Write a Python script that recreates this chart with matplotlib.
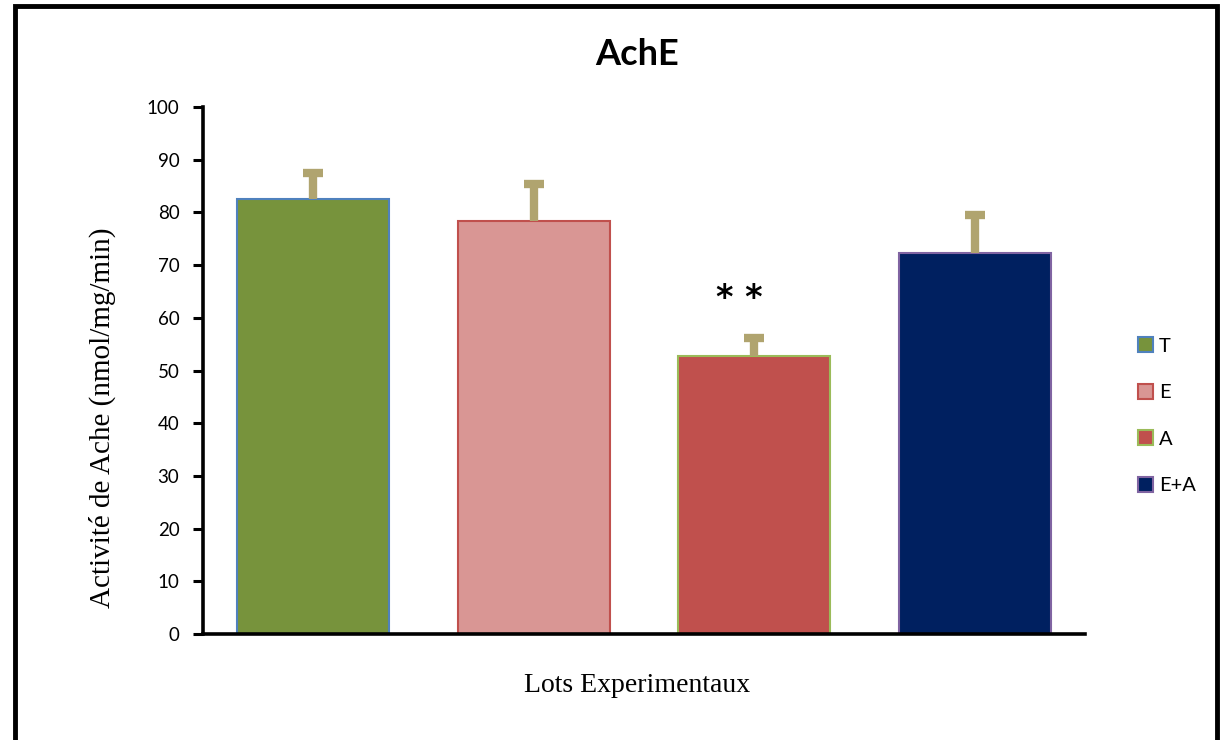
import matplotlib
matplotlib.use("Agg")
import matplotlib.pyplot as plt
from matplotlib.patches import Rectangle

# Activité AchE par lot (moyenne + erreur)
lots = ["T", "E", "A", "E+A"]
moyennes = [82.5, 78.4, 52.7, 72.3]
erreurs = [5.0, 7.0, 3.5, 7.3]
couleurs = ["#77933c", "#d99694", "#c0504d", "#002060"]
bords = ["#4f81bd", "#c0504d", "#9bbb59", "#8064a2"]
yticks = list(range(0, 101, 10))
signif = {"A": "* *"}

fig = plt.figure(figsize=(12.21, 7.40), dpi=100)
ax = fig.add_axes([0.1663, 0.1432, 0.7224, 0.7122])

x = list(range(len(lots)))
bars = ax.bar(x, moyennes, width=0.69, color=couleurs, edgecolor=bords,
              linewidth=1.5, zorder=2)
for b, lab in zip(bars, lots):
    b.set_label(lab)
eb = ax.errorbar(x, moyennes, yerr=[[0] * len(lots), erreurs], fmt="none",
                 ecolor="#b0a46f", elinewidth=6, capsize=7.5, capthick=6,
                 zorder=3)
# seulement le chapeau du haut (barre en T)
for cap in eb[1]:
    if list(cap.get_ydata()) == moyennes:
        cap.set_visible(False)

for i, lab in enumerate(lots):
    if lab in signif:
        ax.text(i - 0.07, moyennes[i] + erreurs[i] + 7.5, signif[lab],
                ha="center", va="center", fontsize=24, fontweight="bold",
                fontfamily="DejaVu Sans")

ax.set_xlim(-0.5, 3.5)
ax.set_ylim(0, 100)
ax.set_yticks(yticks)
ax.set_xticks([])
ax.tick_params(axis="y", length=7, width=2.2, labelsize=13.5, pad=10)
for t in ax.get_yticklabels():
    t.set_fontfamily("Lato")
for s in ["top", "right"]:
    ax.spines[s].set_visible(False)
for s in ["left", "bottom"]:
    ax.spines[s].set_linewidth(2.6)

fig.text(0.0835, 0.435, "Activité de Ache (nmol/mg/min)", rotation=90,
         ha="center", va="center", fontsize=21, fontfamily="Liberation Serif")
fig.text(0.522, 0.074, "Lots Experimentaux", ha="center", va="center",
         fontsize=20, fontfamily="Liberation Serif")
fig.text(0.522, 0.926, "AchE", ha="center", va="center", fontsize=26,
         fontweight="bold", fontfamily="Lato")

ax.legend(loc="center left", bbox_to_anchor=(0.917, 0.438),
          bbox_transform=fig.transFigure, frameon=False,
          prop={"family": "Lato", "size": 14.5}, handlelength=0.75,
          handleheight=0.75, handletextpad=0.3, labelspacing=1.45)

# cadre autour de la figure
fig.patches.append(Rectangle((0.012, -0.05), 0.985, 1.042, fill=False,
                             lw=3.5, ec="black", transform=fig.transFigure,
                             figure=fig))

fig.savefig("out.png", dpi=100)
